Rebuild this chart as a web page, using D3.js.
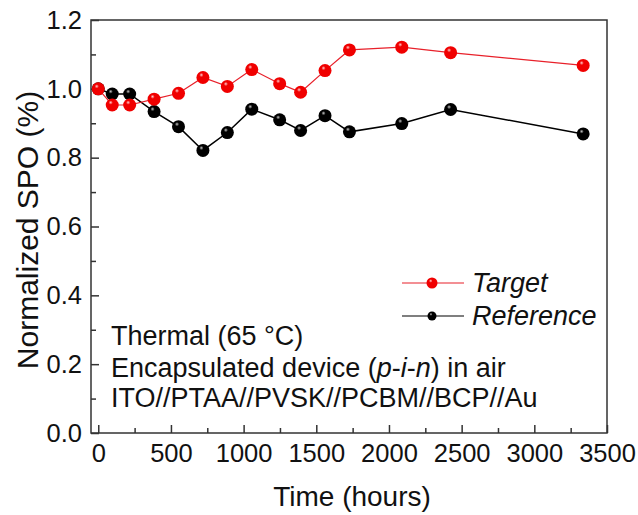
<!DOCTYPE html>
<html>
<head>
<meta charset="utf-8">
<script src="https://cdn.jsdelivr.net/npm/d3@7"></script>
<style>
  body { margin: 0; background: #fff; }
  svg { font-family: Arial, "Liberation Sans", sans-serif; }
</style>
</head>
<body>
<svg id="chart" width="638" height="515"></svg>
<script>
// time in hours (same sampling for both series)
var hours = [0, 96, 216, 384, 552, 720, 888, 1056, 1248, 1392, 1560, 1728, 2088, 2424, 3336];
var targetSPO = [1.0, 0.953, 0.953, 0.970, 0.987, 1.033, 1.007, 1.056, 1.015, 0.990, 1.053, 1.113, 1.121, 1.105, 1.068];
var referenceSPO = [1.0, 0.985, 0.985, 0.934, 0.890, 0.821, 0.873, 0.941, 0.910, 0.879, 0.922, 0.875, 0.899, 0.940, 0.869];
var xTicks = [0, 500, 1000, 1500, 2000, 2500, 3000, 3500];
var yTicks = [0.0, 0.2, 0.4, 0.6, 0.8, 1.0, 1.2];
var notes = ['Thermal (65 \u00B0C)', 'Encapsulated device (', 'ITO//PTAA//PVSK//PCBM//BCP//Au'];

var svg = d3.select('#chart');
var m = {left: 91, right: 607, top: 20, bottom: 433};

var x = d3.scaleLinear().domain([-50, 3500]).range([m.left, m.right]);
var y = d3.scaleLinear().domain([0, 1.2]).range([m.bottom, m.top]);

// sphere-like marker gradients
var defs = svg.append('defs');
function sphere(id, base, light){
	var g = defs.append('radialGradient').attr('id', id)
		.attr('cx', '0.4').attr('cy', '0.35').attr('r', '0.65')
		.attr('fx', '0.38').attr('fy', '0.3');
	g.append('stop').attr('offset', '0%').attr('stop-color', light);
	g.append('stop').attr('offset', '25%').attr('stop-color', base);
	g.append('stop').attr('offset', '100%').attr('stop-color', base);
}
sphere('gRed', '#f00000', '#ffd0d0');
sphere('gBlack', '#000000', '#c8c8c8');

// frame
svg.append('rect')
	.attr('x', m.left).attr('y', m.top)
	.attr('width', m.right - m.left).attr('height', m.bottom - m.top)
	.attr('fill', 'none').attr('stroke', '#333').attr('stroke-width', 1.5);

// axes with inward ticks
var xAxis = svg.append('g').attr('transform', 'translate(0,' + m.bottom + ')')
	.call(d3.axisBottom(x).tickValues(xTicks).tickSize(-8).tickPadding(11).tickFormat(d3.format('d')));
var xMinor = svg.append('g').attr('transform', 'translate(0,' + m.bottom + ')')
	.call(d3.axisBottom(x).tickValues(d3.range(250, 3500, 500)).tickSize(-5).tickFormat(''));
var yAxis = svg.append('g').attr('transform', 'translate(' + m.left + ',0)')
	.call(d3.axisLeft(y).tickValues(yTicks).tickSize(-8).tickPadding(9).tickFormat(d3.format('.1f')));
var yMinor = svg.append('g').attr('transform', 'translate(' + m.left + ',0)')
	.call(d3.axisLeft(y).tickValues(d3.range(0.1, 1.2, 0.2)).tickSize(-5).tickFormat(''));

[xAxis, xMinor, yAxis, yMinor].forEach(function(a){
	a.select('.domain').remove();
	a.selectAll('line').attr('stroke', '#333').attr('stroke-width', 1.5);
	a.selectAll('text').attr('font-size', '25.5px').attr('fill', '#111')
		.attr('font-family', 'Arial, "Liberation Sans", sans-serif');
});

// axis titles
svg.append('text')
	.attr('x', (m.left + m.right) / 2 + 3).attr('y', 506)
	.attr('text-anchor', 'middle').attr('font-size', '28px').attr('fill', '#111')
	.text('Time (hours)');
svg.append('text')
	.attr('transform', 'translate(38,230) rotate(-90)')
	.attr('text-anchor', 'middle').attr('font-size', '30px').attr('fill', '#111')
	.text('Normalized SPO (%)');

// series
var series = [
	{name: 'Reference', values: referenceSPO, color: '#000', width: 1.5, grad: 'gBlack'},
	{name: 'Target', values: targetSPO, color: '#e8202a', width: 1.2, grad: 'gRed'}
];
var line = d3.line().x(function(d){ return x(d[0]); }).y(function(d){ return y(d[1]); });

series.forEach(function(s){
	var pts = hours.map(function(h, i){ return [h, s.values[i]]; });
	svg.append('path').datum(pts)
		.attr('d', line).attr('fill', 'none')
		.attr('stroke', s.color).attr('stroke-width', s.width);
	svg.selectAll('.pt_' + s.name).data(pts).enter()
		.append('circle')
		.attr('class', 'pt_' + s.name)
		.attr('cx', function(d){ return x(d[0]); })
		.attr('cy', function(d){ return y(d[1]); })
		.attr('r', 6.5)
		.attr('fill', 'url(#' + s.grad + ')');
});

// legend
var legend = [
	{label: 'Target', color: '#e8202a', grad: 'gRed', y: 283, r: 5.5},
	{label: 'Reference', color: '#000', grad: 'gBlack', y: 316, r: 4.5}
];
legend.forEach(function(l){
	svg.append('line').attr('x1', 402).attr('x2', 464).attr('y1', l.y).attr('y2', l.y)
		.attr('stroke', l.color).attr('stroke-width', 1.2);
	svg.append('circle').attr('cx', 432).attr('cy', l.y).attr('r', l.r).attr('fill', 'url(#' + l.grad + ')');
	svg.append('text').attr('x', 472).attr('y', l.y + 9)
		.attr('font-size', '27px').attr('font-style', 'italic').attr('fill', '#111')
		.text(l.label);
});

// annotation
var ann = svg.append('g').attr('font-size', '27px').attr('fill', '#111');
ann.append('text').attr('x', 111).attr('y', 345).text(notes[0]);
var t2 = ann.append('text').attr('x', 111).attr('y', 377);
t2.append('tspan').text(notes[1]);
t2.append('tspan').attr('font-style', 'italic').text('p');
t2.append('tspan').text('-');
t2.append('tspan').attr('font-style', 'italic').text('i');
t2.append('tspan').text('-');
t2.append('tspan').attr('font-style', 'italic').text('n');
t2.append('tspan').text(') in air');
ann.append('text').attr('x', 111).attr('y', 407).text(notes[2]);
</script>
</body>
</html>
